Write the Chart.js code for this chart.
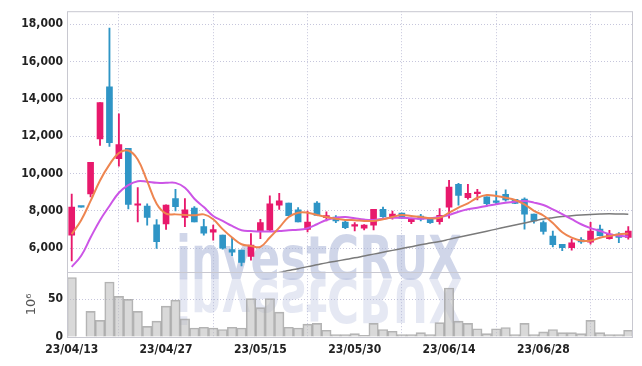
<!DOCTYPE html>
<html>
<head>
<meta charset="utf-8">
<script src="https://cdn.jsdelivr.net/npm/chart.js@4.4.1/dist/chart.umd.min.js"></script>
<style>
  html, body { margin: 0; padding: 0; background: #fff; }
  #wrap { width: 642px; height: 366px; }
</style>
</head>
<body>
<div id="wrap"><canvas id="chart"></canvas></div>
<script>
const dates = [
  "23/04/13","23/04/14","23/04/17","23/04/18","23/04/19","23/04/20","23/04/21","23/04/24","23/04/25","23/04/26",
  "23/04/27","23/04/28","23/05/02","23/05/03","23/05/04","23/05/08","23/05/09","23/05/10","23/05/11","23/05/12",
  "23/05/15","23/05/16","23/05/17","23/05/18","23/05/19","23/05/22","23/05/23","23/05/24","23/05/25","23/05/26",
  "23/05/30","23/05/31","23/06/01","23/06/02","23/06/05","23/06/07","23/06/08","23/06/09","23/06/12","23/06/13",
  "23/06/14","23/06/15","23/06/16","23/06/19","23/06/20","23/06/21","23/06/22","23/06/23","23/06/26","23/06/27",
  "23/06/28","23/06/29","23/06/30","23/07/03","23/07/04","23/07/05","23/07/06","23/07/07","23/07/10","23/07/11"
];
const xTickDates = ["23/04/13","23/04/27","23/05/15","23/05/30","23/06/14","23/06/28"];

const opens  = [6690,8200,8900,11850,14650,10800,11350,8300,8250,7250, 7300,8650,7650,8150,7150,6850,6700,5920,5900,5550,
                6930,6960,8300,8420,8050,7010,8420,7640,7670,7400, 7180,7070,7230,8080,7670,7880,7420,7720,7580,7420,
                8200,9420,8700,8920,8750,8470,8880,8620,8630,7820, 7370,6640,6210,6030,6460,6320,7020,6510,6750,6570];
const highs  = [8900,8200,10600,13800,17800,13200,11350,9250,8380,7530, 8320,9150,8650,8230,7550,7230,6700,6570,5900,6780,
                7550,8810,8940,8420,8170,7990,8490,7950,7740,7500, 7370,7260,8080,8200,7990,7880,7580,7810,7600,8120,
                9630,9470,9420,9150,8750,9060,9130,8620,8700,7820, 7460,6920,6210,6480,6570,7390,7240,6960,6830,7150];
const lows   = [5320,8200,8750,11500,11450,10400,8100,7400,7230,5980, 7000,8000,7150,7400,6700,6430,5950,5600,5050,5360,
                6510,6900,8080,7740,7400,6870,7740,7460,7370,7050, 6920,6980,6980,7650,7550,7600,7310,7460,7330,7280,
                7600,8310,8620,8580,8260,8380,8520,8380,7020,7340, 6750,6070,5860,5890,6250,6210,6660,6480,6300,6480];
const closes = [8200,8200,10600,13800,11650,11550,8350,8330,7650,6350, 8310,8220,8050,7400,6800,7000,6000,5790,5230,6160,
                7370,8380,8530,7740,7400,7400,7760,7740,7460,7100, 7200,7240,8080,7690,7830,7600,7580,7550,7370,7760,
                9270,8830,8940,8940,8380,8450,8580,8400,7820,7460, 6890,6180,6030,6280,6340,6920,6670,6750,6570,6920];

const ma5  = [6750,7500,8530,9630,10480,11100,11230,10750,9590,8380, 7850,7810,7780,7760,7810,7550,7020,6570,6210,6120,
              6070,6570,7100,7670,7900,7900,7780,7670,7580,7510, 7500,7460,7460,7550,7670,7780,7720,7670,7600,7630,
              7900,8170,8400,8700,8850,8790,8700,8580,8350,8000, 7750,7350,6850,6560,6400,6400,6560,6650,6740,6780];
const ma10 = [5000,5590,6570,7500,8260,8970,9380,9590,9560,9500, 9500,9500,9240,8650,8200,7720,7460,7190,6960,6920,
              6890,6890,6920,6960,6980,7070,7280,7510,7630,7670, 7600,7530,7510,7580,7630,7630,7600,7580,7600,7670,
              7780,7950,8080,8170,8260,8350,8430,8490,8530,8440, 8310,8080,7820,7550,7280,7070,6920,6750,6660,6620];
const ma60 = [null,null,null,null,null,null,null,null,null,null, null,null,null,null,null,null,null,null,null,null,
              null,4580,4700,4800,4900,5010,5110,5210,5300,5390, 5480,5580,5680,5780,5880,5980,6080,6180,6270,6360,
              6470,6580,6690,6800,6910,7020,7130,7240,7350,7460, 7560,7630,7690,7740,7780,7810,7830,7840,7830,7820];

const volumes = [79,0,34,22,73,54,50,34,14,21, 41,49,24,12,13,12,10,13,12,51,
                 39,51,33,13,12,17,18,9,3.2,3.2, 4.5,2.3,18,10,7.6,3.2,3.2,5.9,3.2,19,
                 65,21,18,11,4.5,11,12.6,3.2,18,3.2, 6.7,10,5.9,5.9,4.5,22,5.9,3.2,3.2,9];

const priceTicks = [6000, 8000, 10000, 12000, 14000, 16000, 18000];
const volumeTicks = [0, 50];

const upColor = "#e8196c";
const downColor = "#2f95c6";
const gridColor = "#c6c6dc";
const tickFont = { family: "'DejaVu Sans Condensed', 'DejaVu Sans'", size: 12, weight: "bold" };

const candleColors = closes.map((c, i) => c > opens[i] ? upColor : downColor);
const bodies = opens.map((o, i) => [o, closes[i]]);
const wicks = lows.map((l, i) => [l, highs[i]]);

const frame = {
  id: "frame",
  beforeDatasetsDraw(chart) {
    const ctx = chart.ctx;
    const y = chart.scales.y;
    ctx.save();
    ctx.font = "bold 60px 'DejaVu Sans'";
    const w = ctx.measureText("investCRUX").width;
    const cx = 319, base = y.bottom + 7;
    ctx.fillStyle = "rgba(170,180,215,0.55)";
    ctx.translate(cx, base);
    ctx.scale(286 / w, 1);
    ctx.textAlign = "center";
    ctx.fillText("investCRUX", 0, 0);
    ctx.scale(1, -1);
    ctx.fillStyle = "rgba(170,180,215,0.3)";
    ctx.fillText("investCRUX", 0, 0);
    ctx.restore();
  },
  afterDraw(chart) {
    const ctx = chart.ctx;
    const a = chart.chartArea;
    const y = chart.scales.y;
    const v = chart.scales.v;
    ctx.save();
    ctx.strokeStyle = "#c8c8d0";
    ctx.lineWidth = 1;
    ctx.strokeRect(a.left + 0.5, a.top + 0.5, a.right - a.left - 1, a.bottom - a.top);
    ctx.beginPath();
    ctx.moveTo(a.left, Math.round(y.bottom) + 0.5);
    ctx.lineTo(a.right, Math.round(y.bottom) + 0.5);
    ctx.stroke();
    ctx.fillStyle = "#555";
    ctx.font = "13px 'DejaVu Sans'";
    ctx.translate(32, (v.top + v.bottom) / 2);
    ctx.rotate(-Math.PI / 2);
    ctx.textAlign = "center";
    ctx.textBaseline = "middle";
    ctx.fillText("10\u2076", 0, 0);
    ctx.restore();
  }
};

new Chart(document.getElementById("chart"), {
  type: "bar",
  data: {
    labels: dates,
    datasets: [
      { type: "line", label: "MA5", data: ma5, yAxisID: "y", borderColor: "#ee8550", borderWidth: 2,
        pointRadius: 0, tension: 0.4, order: 0 },
      { type: "line", label: "MA10", data: ma10, yAxisID: "y", borderColor: "#cc55e6", borderWidth: 2,
        pointRadius: 0, tension: 0.4, order: 1 },
      { type: "line", label: "MA60", data: ma60, yAxisID: "y", borderColor: "#7a7a7a", borderWidth: 1.5,
        pointRadius: 0, tension: 0.4, order: 2 },
      { label: "body", data: bodies, yAxisID: "y", backgroundColor: candleColors, borderColor: candleColors,
        borderWidth: 0, barThickness: 6, minBarLength: 1.5, grouped: false, order: 3 },
      { label: "wick", data: wicks, yAxisID: "y", backgroundColor: candleColors,
        barThickness: 1.2, grouped: false, order: 4 },
      { label: "volume", data: volumes, yAxisID: "v", backgroundColor: "rgba(185,185,185,0.55)",
        borderColor: "rgba(160,160,160,0.8)", borderWidth: 1, barPercentage: 1, categoryPercentage: 1,
        grouped: false, order: 5 }
    ]
  },
  options: {
    responsive: true,
    maintainAspectRatio: false,
    animation: false,
    layout: { padding: { top: 10, right: 9, left: 0, bottom: 0 } },
    plugins: { legend: { display: false }, tooltip: { enabled: false } },
    scales: {
      x: {
        offset: true,
        grid: { color: gridColor, drawTicks: false },
        border: { display: false, dash: [1, 2] },
        ticks: {
          autoSkip: false, maxRotation: 0, color: "#222", font: tickFont, padding: 6,
          callback: (v, i) => xTickDates.includes(dates[i]) ? dates[i] : null
        },
        afterFit: s => { s.height = 29; }
      },
      v: {
        stack: "panels", stackWeight: 1, min: 0, max: 86.5,
        afterBuildTicks: s => { s.ticks = volumeTicks.map(value => ({ value })); },
        grid: { color: gridColor, drawTicks: false },
        border: { display: false, dash: [1, 2] },
        ticks: { color: "#222", font: tickFont, padding: 4 },
        afterFit: s => { s.width = 67; }
      },
      y: {
        stack: "panels", stackWeight: 4, min: 4730, max: 18700,
        afterBuildTicks: s => { s.ticks = priceTicks.map(value => ({ value })); },
        grid: { color: gridColor, drawTicks: false },
        border: { display: false, dash: [1, 2] },
        ticks: { color: "#222", font: tickFont, padding: 4, callback: v => v.toLocaleString("en-US") },
        afterFit: s => { s.width = 67; }
      }
    }
  },
  plugins: [frame]
});
</script>
</body>
</html>
